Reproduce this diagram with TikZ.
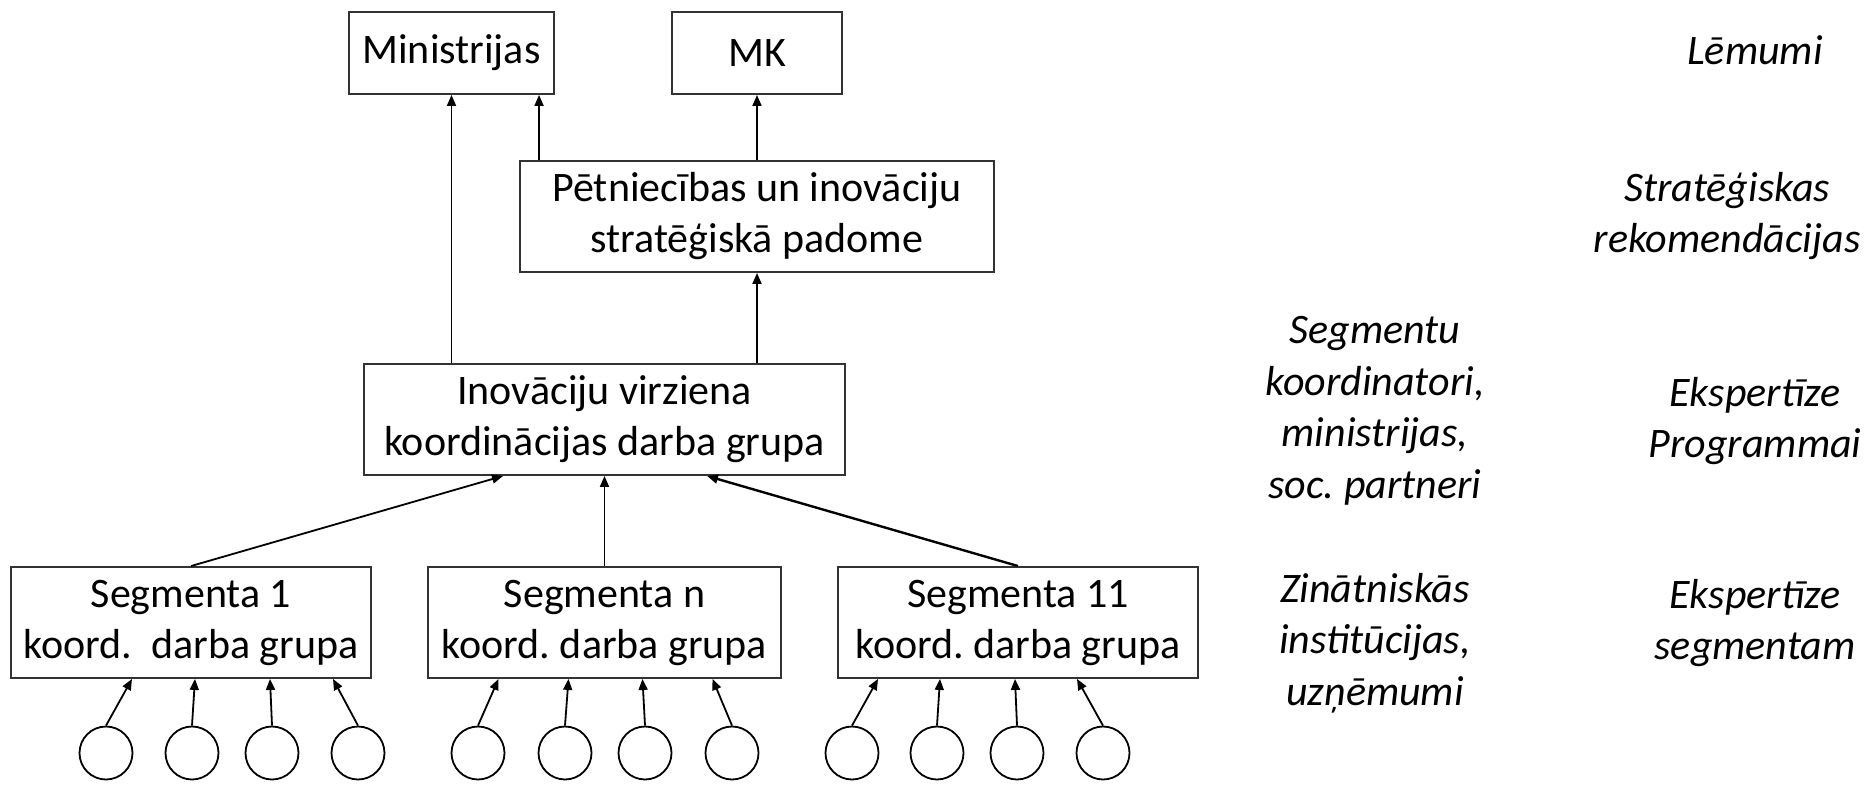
\documentclass[tikz,border=0pt]{standalone}
\usepackage{fontspec}
\setmainfont{Carlito}
\usetikzlibrary{arrows.meta,calc}
\frenchspacing
\begin{document}
\begin{tikzpicture}[x=1pt,y=-1pt,
  box/.style={draw=black!80,line width=1.9pt,inner sep=0pt,align=center,
    font=\fontsize{42}{51}\selectfont},
  ball/.style={circle,draw=black,line width=1.8pt,minimum size=53pt,inner sep=0pt},
  arr/.style={line width=1.8pt,-{Triangle[length=11pt,width=9pt]}},
  lab/.style={inner sep=0pt,align=center,font=\fontsize{42}{51.5}\selectfont\itshape}]
\useasboundingbox (0,0) rectangle (1870,786);

% boxes
\node[box,minimum width=205pt,minimum height=82pt] (min) at (451.5,53) {Ministrijas};
\node[box,minimum width=170pt,minimum height=82pt] (mk) at (757,53) {MK};
\node[box,minimum width=474pt,minimum height=111pt] (pet) at (757,216.5)
  {Pētniecības un inovāciju\\stratēģiskā padome};
\node[box,minimum width=481pt,minimum height=111pt] (inov) at (604.5,419.5)
  {Inovāciju virziena\\koordinācijas darba grupa};
\node[box,minimum width=360pt,minimum height=111pt] (seg1) at (191,622.5)
  {Segmenta 1\\koord.\ \ darba grupa};
\node[box,minimum width=353pt,minimum height=111pt] (segn) at (604.5,622.5)
  {Segmenta n\\koord. darba grupa};
\node[box,minimum width=360pt,minimum height=111pt] (seg11) at (1018,622.5)
  {Segmenta 11\\koord. darba grupa};

% circles
\node[ball] (a1) at (106,753) {};
\node[ball] (a2) at (192,753) {};
\node[ball] (a3) at (272,753) {};
\node[ball] (a4) at (358,753) {};
\node[ball] (b1) at (478,753) {};
\node[ball] (b2) at (565,753) {};
\node[ball] (b3) at (645,753) {};
\node[ball] (b4) at (732,753) {};
\node[ball] (c1) at (852,753) {};
\node[ball] (c2) at (937,753) {};
\node[ball] (c3) at (1017,753) {};
\node[ball] (c4) at (1103,753) {};

% arrows circles -> segment boxes
\draw[arr] (a1.north) -- ($(seg1.south)+(-59,0)$);
\draw[arr] (a2.north) -- ($(seg1.south)+(4,0)$);
\draw[arr] (a3.north) -- ($(seg1.south)+(79,0)$);
\draw[arr] (a4.north) -- ($(seg1.south)+(142,0)$);
\draw[arr] (b1.north) -- ($(segn.south)+(-106,0)$);
\draw[arr] (b2.north) -- ($(segn.south)+(-36,0)$);
\draw[arr] (b3.north) -- ($(segn.south)+(38,0)$);
\draw[arr] (b4.north) -- ($(segn.south)+(108,0)$);
\draw[arr] (c1.north) -- ($(seg11.south)+(-140,0)$);
\draw[arr] (c2.north) -- ($(seg11.south)+(-78,0)$);
\draw[arr] (c3.north) -- ($(seg11.south)+(-3,0)$);
\draw[arr] (c4.north) -- ($(seg11.south)+(59,0)$);

% segment boxes -> inov
\draw[arr] (seg1.north) -- ($(inov.south)+(-101.5,0)$);
\draw[arr] (segn.north) -- (inov.south);
\draw[arr,line width=2.4pt] (seg11.north) -- ($(inov.south)+(102.5,0)$);

% upper arrows
\draw[arr] (inov.north -| min.south) -- (min.south);
\draw[arr] (inov.north -| pet.south) -- (pet.south);
\draw[arr] ($(pet.north west)+(20,0)$) -- ($(min.south west)+(191,0)$);
\draw[arr] (pet.north) -- (mk.south);

% side labels
\node[lab] (l1) at (1755,50) {Lēmumi};
\node[lab] (l2) at (1727,216) {Stratēģiskas\\rekomendācijas};
\node[lab] (l3) at (1375,411) {Segmentu\\koordinatori,\\ministrijas,\\soc. partneri};
\node[lab] (l4) at (1755,421) {Ekspertīze\\Programmai};
\node[lab] (l5) at (1375,643) {Zinātniskās\\institūcijas,\\uzņēmumi};
\node[lab] (l6) at (1755,623) {Ekspertīze\\segmentam};
\end{tikzpicture}
\end{document}
